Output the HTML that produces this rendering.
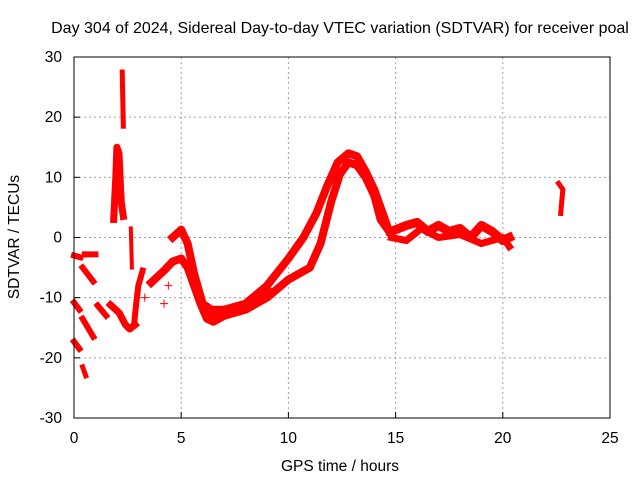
<!DOCTYPE html>
<html><head><meta charset="utf-8"><style>
body{margin:0;background:#fff}
svg text{font-family:"Liberation Sans",sans-serif;font-size:15.5px;fill:#000}
</style></head><body>
<svg width="640" height="480" id="c" xmlns="http://www.w3.org/2000/svg">
<rect width="640" height="480" fill="#fff"/>
<text x="340" y="33" text-anchor="middle" style="font-size:16px">Day 304 of 2024, Sidereal Day-to-day VTEC variation (SDTVAR) for receiver poal</text>
<text x="340" y="471" text-anchor="middle">GPS time / hours</text>
<text transform="translate(19,237) rotate(-90)" text-anchor="middle">SDTVAR / TECUs</text>
<g id="grid"></g>
<g id="marks"></g>
<rect x="74" y="57" width="536" height="361" fill="none" stroke="#000" stroke-width="1"/>
</svg>
<script>
const xTicks=[0,5,10,15,20,25];
const yTicks=[-30,-20,-10,0,10,20,30];
const tracks=[
 [[0,-3],[0.3,-3.3]],
 [[0.5,-2.8],[1.0,-2.8]],
 [[0.4,-5],[0.9,-7.3]],
 [[0,-10.8],[0.25,-12]],
 [[0.4,-13.5],[0.9,-16.5]],
 [[0,-17.3],[0.25,-18.5]],
 [[0.4,-21.5],[0.55,-23]],
 [[1.1,-11.3],[1.5,-13]],
 [[1.7,-11.2],[2.1,-12.5],[2.4,-14.5],[2.6,-15.2],[2.85,-14.5]],
 [[2.8,-14.5],[2.9,-11],[3.0,-8],[3.2,-5.5]],
 [[1.85,3],[1.95,10],[2.0,15],[2.1,14],[2.2,6],[2.3,3.5]],
 [[2.25,27.5],[2.3,18.5]],
 [[2.65,1.5],[2.7,-5]],
 [[3.6,-7.5],[4.2,-5.5],[4.6,-4],[5.0,-3.5],[5.3,-5],[5.6,-8],[5.9,-11],[6.2,-13.5],[6.5,-14],[7,-13],[8,-12],[9,-10],[10,-7],[11,-5],[11.5,-1],[12,6],[12.4,10.5],[12.8,12.5],[13.2,12],[13.6,10],[14,7],[14.3,3],[14.6,1.5]],
 [[4.6,0],[5.0,1.3],[5.3,-1],[5.6,-6],[6.0,-11],[6.4,-12],[7,-12],[8,-11],[9,-8],[10,-3.5],[10.7,0],[11.3,4],[11.8,8.5],[12.3,12.5],[12.8,14],[13.2,13.5],[13.6,11],[14,8],[14.4,4],[14.7,1]],
 [[6.3,-12.5],[7,-12.5],[8,-11.5],[9,-9]],
 [[14.8,1],[15.5,2],[16,2.5],[16.5,1],[17,2],[17.5,1],[18,1.5],[18.5,0],[19,2],[19.5,1],[20,-0.5],[20.3,0]],
 [[14.8,0],[15.5,-0.5],[16.2,1.5],[17,0],[18,0.5],[19,-1],[20,0],[20.3,-1.5]],
 [[22.6,9],[22.8,8],[22.7,4]]
];
const widths=[6,6,6,6,6,6,5,6,7,6,7,5,4,8,8,10,9,7,5];
const singles=[[4.2,-11],[9.2,-9],[3.3,-10],[4.4,-8]];
const X=t=>74+t*536/25, Y=v=>237.5-v*361/60;
const NS='http://www.w3.org/2000/svg';
const g=document.getElementById('grid'), m=document.getElementById('marks');
xTicks.forEach(t=>{
 if(t>0&&t<25){const l=document.createElementNS(NS,'line');
 l.setAttribute('x1',X(t));l.setAttribute('x2',X(t));l.setAttribute('y1',57);l.setAttribute('y2',418);
 l.setAttribute('stroke','#a0a0a0');l.setAttribute('stroke-dasharray','2,3');
 
 g.appendChild(l);}
 const k=document.createElementNS(NS,'line');
 k.setAttribute('x1',X(t));k.setAttribute('x2',X(t));k.setAttribute('y1',412);k.setAttribute('y2',418);k.setAttribute('stroke','#000');
 
 g.appendChild(k);
 const tx=document.createElementNS(NS,'text');
 tx.setAttribute('x',X(t));tx.setAttribute('y',443);tx.setAttribute('text-anchor','middle');tx.textContent=t;
 
 g.appendChild(tx);
});
yTicks.forEach(v=>{
 if(v>-30&&v<30){const l=document.createElementNS(NS,'line');
 l.setAttribute('x1',74);l.setAttribute('x2',610);l.setAttribute('y1',Y(v));l.setAttribute('y2',Y(v));
 l.setAttribute('stroke','#a0a0a0');l.setAttribute('stroke-dasharray','2,3');
 
 g.appendChild(l);}
 const k=document.createElementNS(NS,'line');
 k.setAttribute('x1',74);k.setAttribute('x2',80);k.setAttribute('y1',Y(v));k.setAttribute('y2',Y(v));k.setAttribute('stroke','#000');
 
 g.appendChild(k);
 const tx=document.createElementNS(NS,'text');
 tx.setAttribute('x',62);tx.setAttribute('y',Y(v)+5);tx.setAttribute('text-anchor','end');tx.textContent=v;
 
 g.appendChild(tx);
});
tracks.forEach((tr,i)=>{
 const p=document.createElementNS(NS,'polyline');
 p.setAttribute('points',tr.map(d=>X(d[0])+','+Y(d[1])).join(' '));
 p.setAttribute('fill','none');p.setAttribute('stroke','#f00');p.setAttribute('stroke-width',widths[i]);
 p.setAttribute('stroke-linejoin','round');p.setAttribute('stroke-linecap','square');
 
 m.appendChild(p);
});
singles.forEach(d=>{
 const p=document.createElementNS(NS,'path');
 const x=X(d[0]),y=Y(d[1]);
 p.setAttribute('d',`M${x-4},${y}H${x+4}M${x},${y-4}V${y+4}`);
 p.setAttribute('stroke','#f00');
 
 m.appendChild(p);
});
</script>
</body></html>
